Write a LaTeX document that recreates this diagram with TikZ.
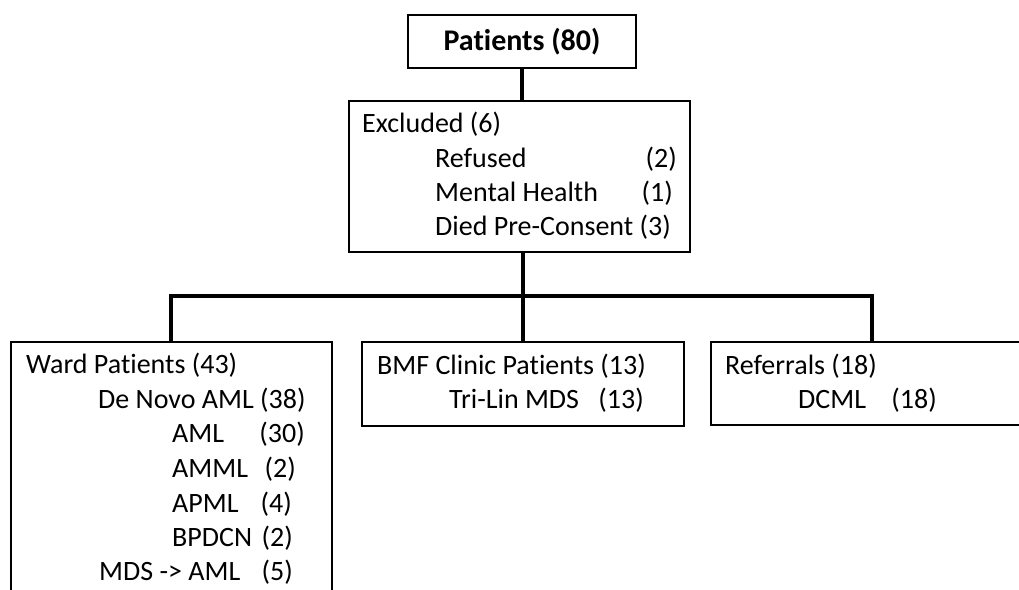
\documentclass[tikz,border=0pt]{standalone}
\usepackage{fontspec}
\setmainfont{Carlito}[Ligatures=NoCommon]

\begin{document}
\begin{tikzpicture}[x=1pt,y=-1pt,
    box/.style={draw, rectangle, line width=1.7pt, inner sep=0pt},
    stem/.style={line width=3.8pt},
    txt/.style={anchor=base west, inner sep=0pt, font=\fontsize{28}{34}\selectfont},
    num/.style={anchor=base east, inner sep=0pt, font=\fontsize{28}{34}\selectfont}]
    \useasboundingbox (0,0) rectangle (1019,589);
    \clip (0,0) rectangle (1019,589);
    % Boxes
    \node[box, minimum width=228pt, minimum height=53pt, font=\fontsize{30}{36}\selectfont\bfseries] (patients) at (522,41.5) {Patients (80)};
    \node[box, anchor=north west, minimum width=341pt, minimum height=151pt] (excluded) at (348,100) {};
    \node[box, anchor=north west, minimum width=321pt, minimum height=280pt] (ward) at (10,341) {};
    \node[box, anchor=north west, minimum width=322pt, minimum height=84pt] (bmf) at (361,341) {};
    \node[box, anchor=north west, minimum width=322pt, minimum height=83pt] (referrals) at (710,341) {};
    %
    % Excluded
    \node[txt] (exHead) at (362,132) {Excluded (6)};
    \node[txt] (exRefused) at (435,167) {Refused};
    \node[num] (exRefusedN) at (677,167) {(2)};
    \node[txt] (exMental) at (435,201) {Mental Health};
    \node[num] (exMentalN) at (673,201) {(1)};
    \node[txt] (exDied) at (435,235) {Died Pre-Consent (3)};
    % Ward Patients
    \node[txt] (wdHead) at (26,373) {Ward Patients (43)};
    \node[txt] (wdNovo) at (98,408) {De Novo AML (38)};
    \node[txt] (wdAml) at (172,442) {AML};
    \node[num] (wdAmlN) at (305,442) {(30)};
    \node[txt] (wdAmml) at (172,477) {AMML};
    \node[num] (wdAmmlN) at (296,477) {(2)};
    \node[txt] (wdApml) at (172,512) {APML};
    \node[num] (wdApmlN) at (292,512) {(4)};
    \node[txt] (wdBpdcn) at (172,546) {BPDCN};
    \node[num] (wdBpdcnN) at (293,546) {(2)};
    \node[txt] (wdMds) at (99,580) {MDS -> AML};
    \node[num] (wdMdsN) at (293,580) {(5)};
    % BMF Clinic Patients
    \node[txt] (bmHead) at (377,374) {BMF Clinic Patients (13)};
    \node[txt] (bmTri) at (449,408) {Tri-Lin MDS};
    \node[num] (bmTriN) at (644,408) {(13)};
    % Referrals
    \node[txt] (rfHead) at (725,374) {Referrals (18)};
    \node[txt] (rfDcml) at (798,408) {DCML};
    \node[num] (rfDcmlN) at (937,408) {(18)};
    %
    % Connectors
    \coordinate (split) at (522,296);
    \draw[stem] (patients.south) -- (patients.south |- excluded.north);
    \draw[stem] (bmf.north |- excluded.south) -- (bmf.north);
    \draw[stem] (ward.north) |- (split) -| (referrals.north);
\end{tikzpicture}
\end{document}
